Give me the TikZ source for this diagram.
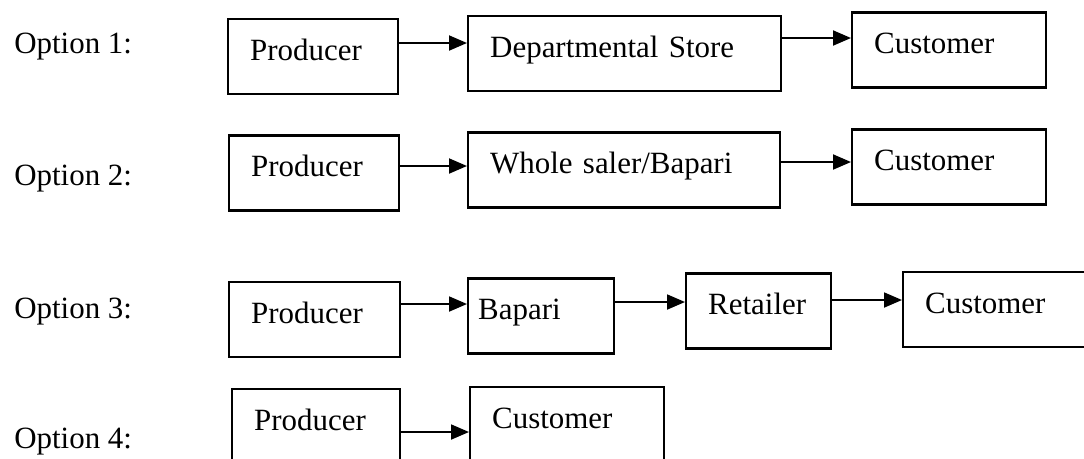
\documentclass[tikz,border=0pt]{standalone}
\usepackage{fontspec}
\setmainfont{Liberation Serif}
\usetikzlibrary{arrows.meta}

\tikzset{
  box/.style={draw, line width=1.4pt, text width=#1, align=left,
              inner xsep=0.44cm, minimum height=1.5cm,
              text height=0.7em, text depth=0.25em, anchor=west},
  flow/.style={line width=1.1pt, -{Triangle[length=0.36cm,width=0.3cm]}},
  opt/.style={anchor=base west, inner sep=0pt}
}

\begin{document}
\begin{tikzpicture}[x=0.02cm, y=-0.02cm, font=\fontsize{17.6}{21}\selectfont] % <- 1 unit = 1 pixel
   % Picture frame
   \useasboundingbox (0,0) rectangle (1084,458);
   % Option labels
   \node[opt] (o1) at (14,53) {Option 1:};
   \node[opt] (o2) at (14,185) {Option 2:};
   \node[opt] (o3) at (14,318) {Option 3:};
   \node[opt] (o4) at (14,448) {Option 4:};
   % Option 1
   \node[box=2.52cm] (p1) at (227,56.5) {Producer};
   \node[box=5.38cm] (d1) at (467,53.5) {Departmental Store};
   \node[box=3.0cm] (c1) at (851,50) {Customer};
   \draw[flow] ([yshift=0.27cm]p1.east) -- ([yshift=0.27cm]p1.east -| d1.west);
   \draw[flow] ([yshift=0.31cm]d1.east) -- ([yshift=0.31cm]d1.east -| c1.west);
   % Option 2
   \node[box=2.52cm] (p2) at (228,173) {Producer};
   \node[box=5.36cm] (w2) at (467,170) {Whole saler/Bapari};
   \node[box=3.0cm] (c2) at (851,167) {Customer};
   \draw[flow] ([yshift=0.14cm]p2.east) -- ([yshift=0.14cm]p2.east -| w2.west);
   \draw[flow] ([yshift=0.16cm]w2.east) -- ([yshift=0.16cm]w2.east -| c2.west);
   % Option 3
   \node[box=2.54cm] (p3) at (228,319.5) {Producer};
   \node[box=2.52cm, inner xsep=0.2cm] (b3) at (467,316) {Bapari};
   \node[box=2.02cm] (r3) at (685,311) {Retailer};
   \node[box=3.0cm] (c3) at (902,309.5) {Customer};
   \draw[flow] ([yshift=0.31cm]p3.east) -- ([yshift=0.31cm]p3.east -| b3.west);
   \draw[flow] ([yshift=0.28cm]b3.east) -- ([yshift=0.28cm]b3.east -| r3.west);
   \draw[flow] ([yshift=0.22cm]r3.east) -- ([yshift=0.22cm]r3.east -| c3.west);
   % Option 4
   \node[box=2.48cm] (p4) at (231,426.5) {Producer};
   \node[box=3.0cm] (c4) at (469,424.5) {Customer};
   \draw[flow] ([yshift=-0.11cm]p4.east) -- ([yshift=-0.11cm]p4.east -| c4.west);
\end{tikzpicture}
\end{document}
